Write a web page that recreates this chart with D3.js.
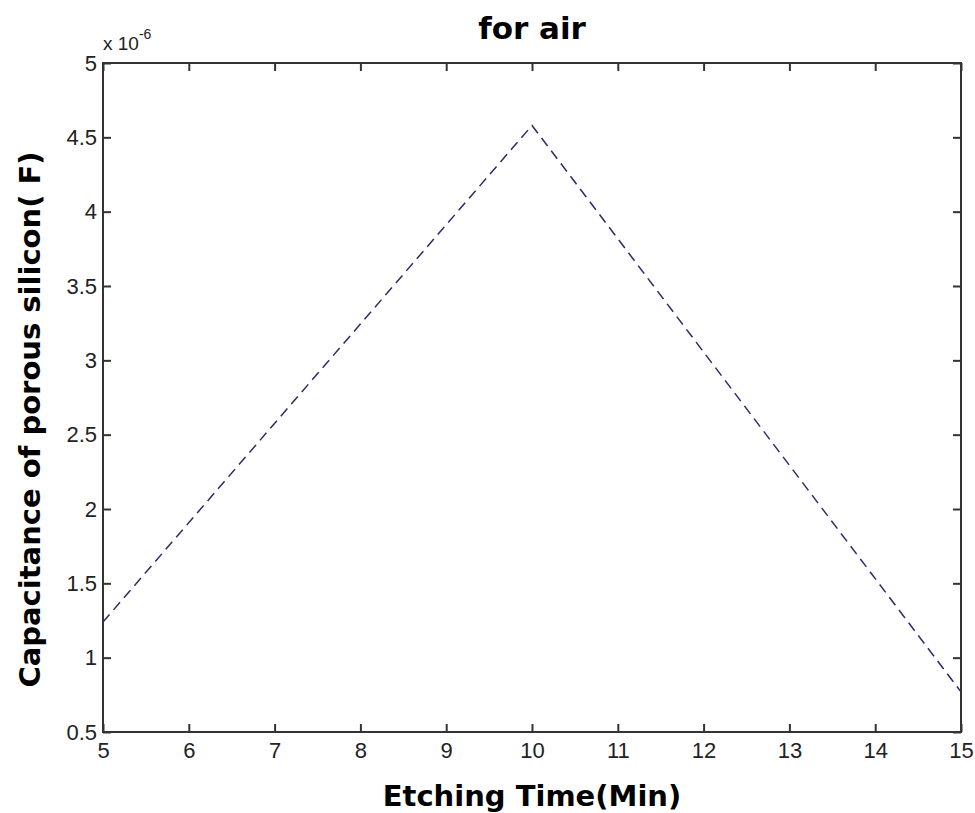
<!DOCTYPE html>
<html>
<head>
<meta charset="utf-8">
<script src="https://cdn.jsdelivr.net/npm/d3@7"></script>
<style>
  body { margin: 0; background: #fff; }
  .tick text { font-family: "Liberation Sans", Arial, sans-serif; font-size: 22px; fill: #222; }
  .lbl { font-family: "DejaVu Sans", sans-serif; font-weight: bold; fill: #000; }
</style>
</head>
<body>
<div id="chart"></div>
<script>
const WIDTH = 975;
const HEIGHT = 813;

// data (capacitance in units of 1e-6 F)
const etchTime = [5, 10, 15];
const capacitance = [1.24, 4.58, 0.77];
const xTicks = [5, 6, 7, 8, 9, 10, 11, 12, 13, 14, 15];
const yTicks = [0.5, 1, 1.5, 2, 2.5, 3, 3.5, 4, 4.5, 5];

const margin = {left: 103, right: 14, top: 63, bottom: 81};

const svg = d3.select("#chart").append("svg")
    .attr("width", WIDTH)
    .attr("height", HEIGHT);

const x = d3.scaleLinear().domain([5, 15]).range([margin.left, WIDTH - margin.right]);
const y = d3.scaleLinear().domain([0.5, 5]).range([HEIGHT - margin.bottom, margin.top]);

// axes: ticks pointing inward on all four sides
function styleAxis(g) {
    g.select(".domain").remove();
    g.selectAll(".tick line").attr("stroke", "#333").attr("stroke-width", 2);
}

svg.append("g")
    .attr("transform", `translate(0,${y(0.5)})`)
    .call(d3.axisBottom(x).tickValues(xTicks).tickSize(-8).tickPadding(10).tickFormat(d3.format("")))
    .call(styleAxis);

svg.append("g")
    .attr("transform", `translate(0,${y(5)})`)
    .call(d3.axisTop(x).tickValues(xTicks).tickSize(-8).tickFormat(""))
    .call(styleAxis);

svg.append("g")
    .attr("transform", `translate(${x(5)},0)`)
    .call(d3.axisLeft(y).tickValues(yTicks).tickSize(-8).tickPadding(6).tickFormat(d3.format("")))
    .call(styleAxis);

svg.append("g")
    .attr("transform", `translate(${x(15)},0)`)
    .call(d3.axisRight(y).tickValues(yTicks).tickSize(-8).tickFormat(""))
    .call(styleAxis);

// box
svg.append("rect")
    .attr("x", x(5)).attr("y", y(5))
    .attr("width", x(15) - x(5)).attr("height", y(0.5) - y(5))
    .attr("fill", "none").attr("stroke", "#333").attr("stroke-width", 2);

// dashed line
const line = d3.line().x((d, i) => x(etchTime[i])).y(d => y(d));
svg.append("path")
    .datum(capacitance)
    .attr("d", line)
    .attr("fill", "none")
    .attr("stroke", "#2b2b6b")
    .attr("stroke-width", 1.5)
    .attr("stroke-dasharray", "10,6");

// exponent label
const ex = svg.append("text")
    .attr("x", x(5)).attr("y", 50)
    .attr("font-family", "Liberation Sans, Arial, sans-serif")
    .attr("font-size", 19).attr("fill", "#222");
ex.append("tspan").text("x 10");
ex.append("tspan").attr("dy", -11).attr("font-size", 14).text("-6");

// title and axis labels
svg.append("text").attr("class", "lbl")
    .attr("x", (x(5) + x(15)) / 2).attr("y", 39)
    .attr("text-anchor", "middle").attr("font-size", 31)
    .text("for air");

svg.append("text").attr("class", "lbl")
    .attr("x", (x(5) + x(15)) / 2).attr("y", 806)
    .attr("text-anchor", "middle").attr("font-size", 29)
    .text("Etching Time(Min)");

svg.append("text").attr("class", "lbl")
    .attr("transform", `translate(40,${(y(0.5) + y(5)) / 2 + 22}) rotate(-90)`)
    .attr("text-anchor", "middle").attr("font-size", 29)
    .text("Capacitance of porous silicon( F)");
</script>
</body>
</html>
